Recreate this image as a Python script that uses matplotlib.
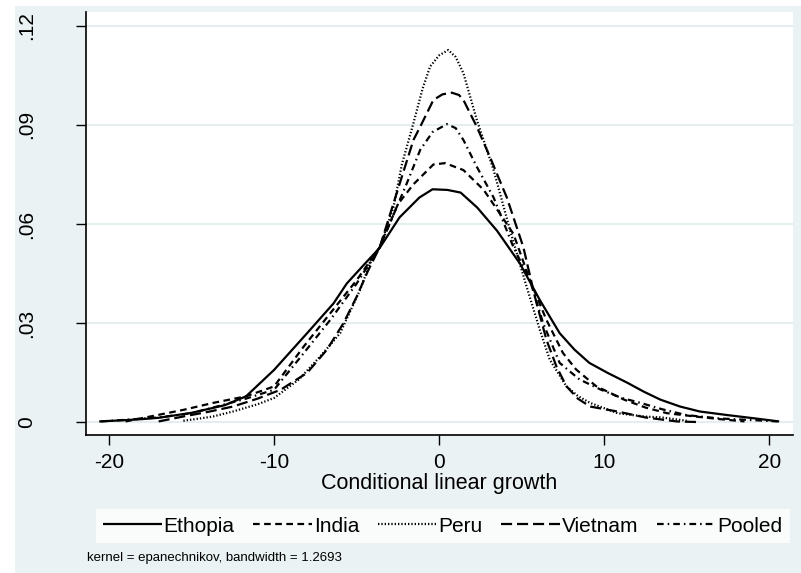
import matplotlib
matplotlib.use("Agg")
import matplotlib.pyplot as plt
from matplotlib.patches import Rectangle

plt.rcParams['font.family'] = ['Liberation Sans', 'DejaVu Sans']
plt.rcParams['axes.unicode_minus'] = False

# kernel density estimates
eth_x = [-20.6, -19, -18, -17, -15, -13, -11.7, -10, -8, -6.4, -5.6, -4.5, -3.6, -2.4, -1.2, -0.4, 0.5, 1.3,
         2.3, 3.5, 4.9, 6.1, 7.3, 8.2, 9.1, 10.2, 11.4, 12.4, 13.4, 14.6, 15.8, 17.5, 19, 20.6]
eth_y = [0.0003, 0.0007, 0.001, 0.0014, 0.0029, 0.0052, 0.0079, 0.0159, 0.027, 0.036, 0.042, 0.048, 0.0528,
         0.062, 0.068, 0.0705, 0.0703, 0.0695, 0.065, 0.058, 0.048, 0.037, 0.027, 0.022, 0.018, 0.015, 0.012,
         0.0093, 0.0069, 0.0048, 0.0033, 0.0022, 0.0013, 0.0003]

ind_x = [-19, -17.5, -15.5, -13.7, -11.7, -10, -8.2, -6.6, -5, -3.6, -2.5, -1.56, -0.35, 0.36, 1.47, 2.7,
         3.7, 4.5, 5.5, 6.5, 7.5, 8.3, 9.5, 11.2, 12.5, 13.8, 15.5, 17, 18.5]
ind_y = [0.0003, 0.0018, 0.0038, 0.0059, 0.0079, 0.0109, 0.023, 0.033, 0.043, 0.053, 0.066, 0.072, 0.078,
         0.0784, 0.0763, 0.0703, 0.063, 0.057, 0.043, 0.031, 0.021, 0.016, 0.011, 0.0069, 0.0045, 0.0028,
         0.0018, 0.001, 0.0003]

per_x = [-15.5, -14.5, -13.7, -12.5, -11, -10, -8.5, -7.2, -6, -4.8, -4.2, -3.6, -2.77, -2.26, -1.56, -1.0,
         -0.55, 0.0, 0.55, 1.0, 1.47, 2.28, 3.3, 4.3, 5.3, 6.1, 6.7, 7.7, 8.4, 9.15, 10.8, 12.4, 13.5, 15]
per_y = [0.0005, 0.0012, 0.0018, 0.0033, 0.0055, 0.0074, 0.013, 0.020, 0.027, 0.040, 0.048, 0.053, 0.065,
         0.078, 0.0905, 0.101, 0.1076, 0.111, 0.1126, 0.1105, 0.1056, 0.0915, 0.0763, 0.058, 0.041, 0.028,
         0.019, 0.011, 0.008, 0.0059, 0.0028, 0.0018, 0.0015, 0.0005]

vie_x = [-17, -15.5, -14, -12.5, -11, -9.6, -8.0, -6.8, -5.8, -5, -4.3, -3.6, -2.26, -1.56, -1.15, -0.35,
         0.2, 0.77, 1.2, 1.47, 2.28, 3.1, 4.1, 5.1, 5.8, 6.5, 7.1, 7.7, 8.4, 9.15, 10.8, 12.5, 14.4, 15.8]
vie_y = [0.0003, 0.0018, 0.0032, 0.0048, 0.0072, 0.0099, 0.015, 0.022, 0.030, 0.038, 0.046, 0.053, 0.0743,
         0.0854, 0.0894, 0.0975, 0.0992, 0.0997, 0.0990, 0.0975, 0.0894, 0.080, 0.068, 0.053, 0.038, 0.025,
         0.017, 0.011, 0.0072, 0.0048, 0.0033, 0.0015, 0.0003, 0.0001]

poo_x = [-20.5, -19, -17, -15, -13.7, -11.7, -10, -8.2, -6.6, -5, -3.6, -1.96, -1.15, -0.4, 0.47, 1.0,
         1.47, 2.28, 3.3, 4.5, 5.5, 6.3, 7.3, 8.5, 9.8, 11, 12.2, 13.5, 15, 17, 19, 20.5]
poo_y = [0.0003, 0.0008, 0.0015, 0.0028, 0.0045, 0.0072, 0.0099, 0.021, 0.031, 0.042, 0.053, 0.0723,
         0.0824, 0.0878, 0.0902, 0.0890, 0.0854, 0.0773, 0.068, 0.053, 0.043, 0.030, 0.018, 0.013, 0.0099,
         0.0075, 0.0059, 0.004, 0.0022, 0.0012, 0.0007, 0.0003]

names = ["Ethopia", "India", "Peru", "Vietnam", "Pooled"]
yticks = [0, 0.03, 0.06, 0.09, 0.12]
ytick_labels = ["0", ".03", ".06", ".09", ".12"]
xticks = [-20, -10, 0, 10, 20]

bg = '#eaf2f3'
fig = plt.figure(figsize=(8.01, 5.73), dpi=100, facecolor='white')
fig.patches.append(Rectangle((15 / 801, 0), 1, 1 - 6 / 573, transform=fig.transFigure,
                             facecolor=bg, edgecolor='none', zorder=-10))
ax = fig.add_axes([86 / 801, 1 - 435 / 573, (793 - 86) / 801, (435 - 12) / 573])
ax.set_facecolor('white')

lw = 1.6
styles = ['-', (0, (3.0, 2.0)), (0, (0.6, 0.9)), (0, (5.0, 2.2)), (0, (3.0, 1.8, 0.7, 1.8))]
series = [(eth_x, eth_y), (ind_x, ind_y), (per_x, per_y), (vie_x, vie_y), (poo_x, poo_y)]
for (xs, ys), ls, nm in zip(series, styles, names):
    ax.plot(xs, ys, color='black', lw=lw, linestyle=ls, label=nm, solid_capstyle='butt',
            dash_capstyle='butt', solid_joinstyle='round')

ax.set_xlim(-21.4, 21.44)
ax.set_ylim(-0.0038, 0.1241)
ax.set_yticks(yticks)
ax.set_yticklabels(ytick_labels, rotation=90, va='center')
ax.set_xticks(xticks)
ax.grid(axis='y', color='#e4eef0', lw=1.4)
ax.set_axisbelow(True)
for s in ['top', 'right']:
    ax.spines[s].set_visible(False)
for s in ['left', 'bottom']:
    ax.spines[s].set_linewidth(1.2)
ax.tick_params(axis='y', length=7, width=1.0, pad=29, labelsize=15)
ax.tick_params(axis='x', length=7, width=1.0, pad=6, labelsize=15)
ax.set_xlabel("Conditional linear growth", fontsize=15.5, labelpad=1)

leg = fig.legend(loc='lower left', bbox_to_anchor=(96 / 801, 1 - 543 / 573, 694 / 801, 38 / 573),
                 mode='expand', ncol=5, fontsize=15, frameon=True, fancybox=False,
                 handlelength=2.8, handletextpad=0.1, columnspacing=0.4, borderpad=0.35,
                 borderaxespad=0)
leg.get_frame().set_facecolor('white')
leg.get_frame().set_edgecolor('none')

fig.text(87 / 801, 1 - 558 / 573, "kernel = epanechnikov, bandwidth = 1.2693", fontsize=9.5,
         ha='left', va='center')

fig.savefig("out.png", dpi=100, facecolor=fig.get_facecolor())
